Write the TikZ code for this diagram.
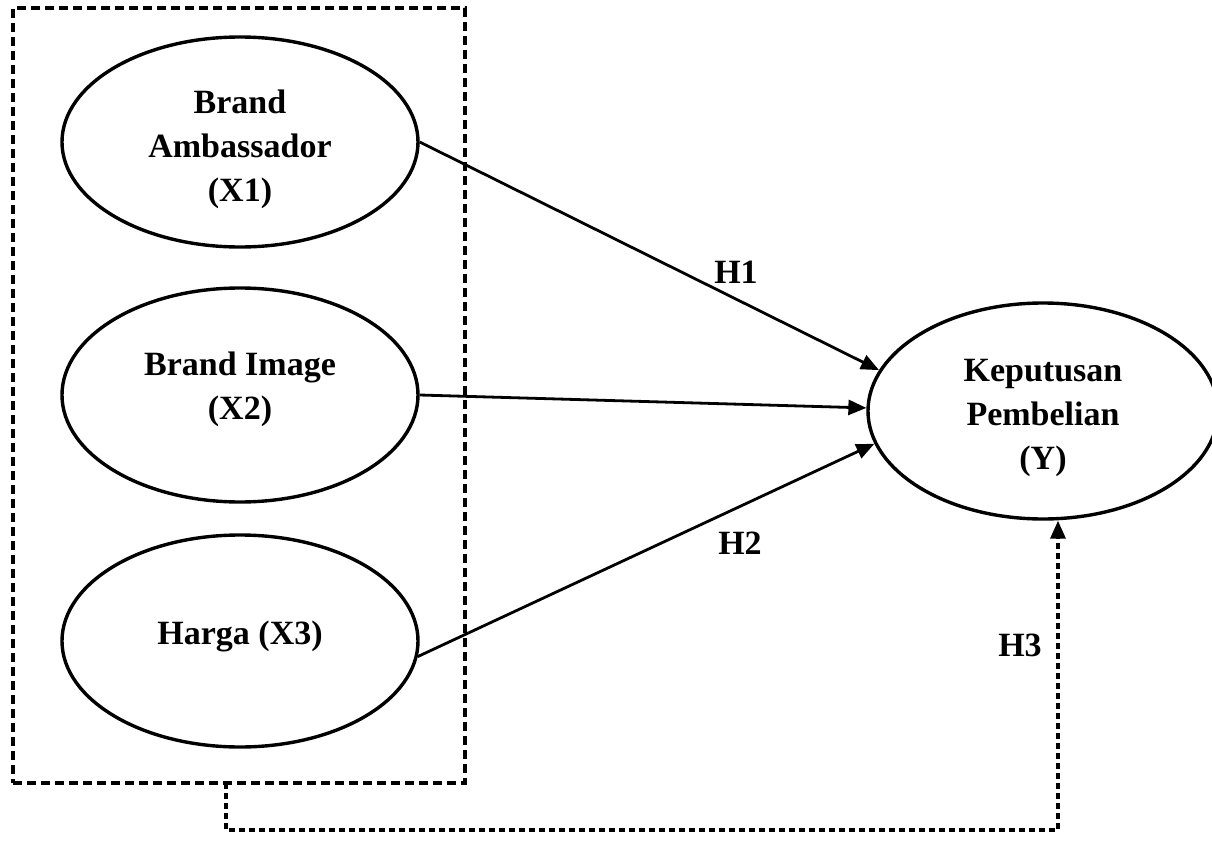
\documentclass[tikz,border=0pt]{standalone}
\usepackage{fontspec}
\setmainfont{Liberation Serif}
\usetikzlibrary{shapes.geometric,arrows.meta}
\begin{document}
\begin{tikzpicture}[x=0.5pt,y=-0.5pt,
  var/.style={draw,ellipse,line width=1.7pt,inner sep=0pt},
  lbl/.style={font=\fontsize{17}{22}\selectfont\bfseries,align=center,inner sep=0pt},
  path/.style={line width=1.4pt,-{Triangle[length=9pt,width=7.5pt]}},
  grp/.style={draw,line width=1.7pt,dash pattern=on 4.5pt off 2.5pt,minimum width=226pt,minimum height=387.5pt,inner sep=0pt},
  link/.style={line width=1.7pt,dash pattern=on 3pt off 2pt,-{Triangle[length=9pt,width=7.5pt]}}]
\useasboundingbox (0,0) rectangle (1212,841);
\clip (0,0) rectangle (1212,841);
\node[grp] (box) at (239,395.5) {};
\node[var,minimum width=178pt,minimum height=105pt] (X1) at (240,142) {};
\node[var,minimum width=178pt,minimum height=107pt] (X2) at (240,395) {};
\node[var,minimum width=178pt,minimum height=106pt] (X3) at (240,641) {};
\node[var,minimum width=175pt,minimum height=108pt] (Y) at (1043,411) {};
\node[lbl] (X1t) at (240,149) {Brand\\Ambassador\\(X1)};
\node[lbl] (X2t) at (240,389) {Brand Image\\(X2)};
\node[lbl] (X3t) at (240,636) {Harga (X3)};
\node[lbl] (Yt) at (1043,418) {Keputusan\\Pembelian\\(Y)};
\draw[path] (X1.east) -- (Y.166);
\draw[path] (X2.east) -- (Y.179);
\draw[path] (X3.-5) -- (Y.191);
\node[lbl] (h1) at (736,272) {H1};
\node[lbl] (h2) at (740,543) {H2};
\node[lbl] (h3) at (1020,645) {H3};
\coordinate (b1) at (226,783);
\coordinate (b2) at (1058,830);
\draw[link] (b1) |- (b2) -- (b2 |- Y.south);
\end{tikzpicture}
\end{document}
